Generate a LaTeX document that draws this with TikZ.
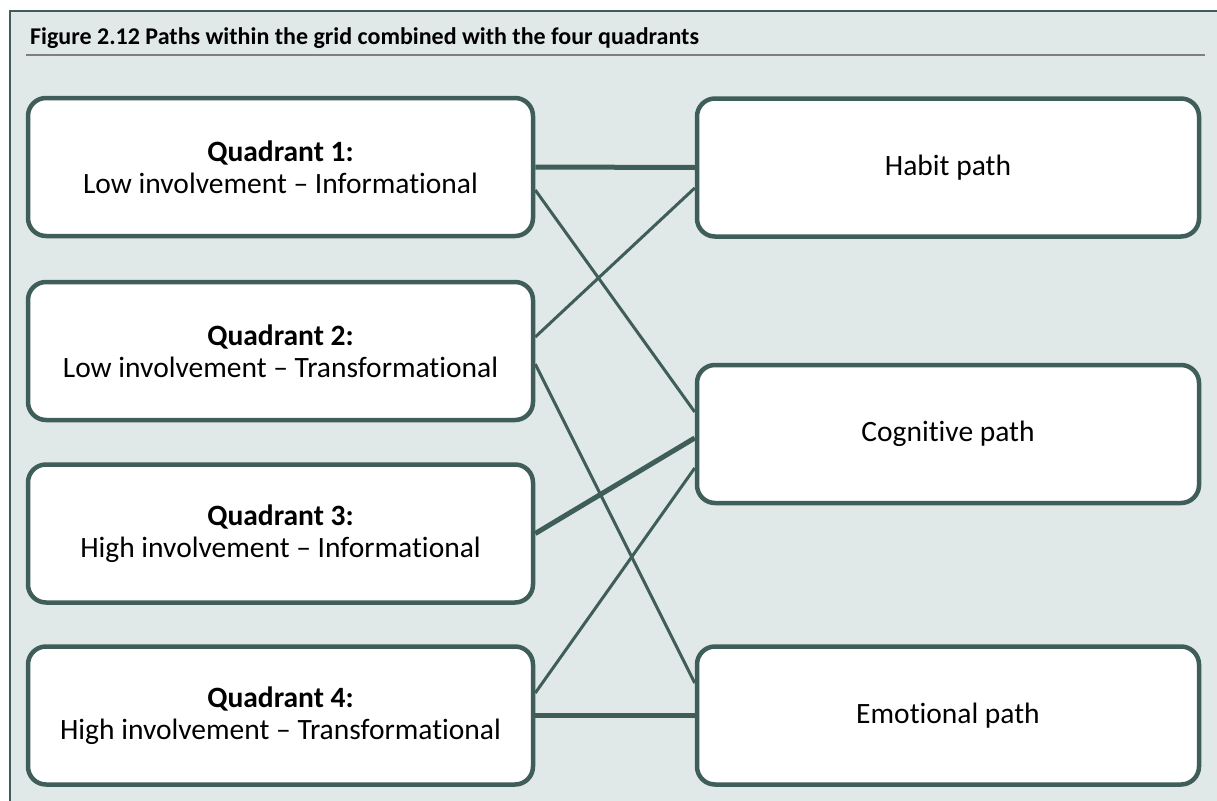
\documentclass[tikz,border=0pt]{standalone}
\usepackage{fontspec}
\setmainfont{Carlito}[Ligatures={TeX,NoCommon}]
\definecolor{framebg}{HTML}{E1E8E8}
\definecolor{edge}{HTML}{3F5E59}
\definecolor{rulegray}{HTML}{7F7F7F}
\begin{document}
\begin{tikzpicture}[x=1pt,y=-1pt,
  panel/.style={draw=edge, line width=4.5pt, fill=white, rounded corners=18pt,
    minimum height=138pt, align=center, inner sep=0pt,
    font=\fontsize{29.5}{32}\selectfont},
  leftbox/.style={panel, minimum width=505pt},
  rightbox/.style={panel, minimum width=502pt},
  link/.style={draw=edge, line width=3pt},
  boldlink/.style={draw=edge, line width=5pt}]
  \useasboundingbox (0,0) rectangle (1217,800);
  \clip (0,0) rectangle (1217,800);

  % outer frame and caption
  \draw[draw=edge, line width=2pt, fill=framebg] (10,11) rectangle (1240,830);
  \node[anchor=base west, inner sep=0pt, font=\fontsize{24}{28}\selectfont\bfseries]
    (title) at (30,45) {Figure 2.12 Paths within the grid combined with the four quadrants};
  \coordinate (ruleL) at (26,55);
  \coordinate (ruleR) at (1205,55);
  \draw[rulegray, line width=2pt] (ruleL) -- (ruleR);

  % quadrant boxes
  \node[leftbox] (q1) at (280.5,167) {\textbf{Quadrant 1:}\\Low involvement -- Informational};
  \node[leftbox] (q2) at (280.5,351) {\textbf{Quadrant 2:}\\Low involvement -- Transformational};
  \node[leftbox] (q3) at (280.5,533.5) {\textbf{Quadrant 3:}\\High involvement -- Informational};
  \node[leftbox] (q4) at (280.5,715.5) {\textbf{Quadrant 4:}\\High involvement -- Transformational};

  % path boxes
  \node[rightbox] (habit) at (948,167.5) {Habit path};
  \node[rightbox] (cog) at (948,434) {Cognitive path};
  \node[rightbox] (emo) at (948,715.5) {Emotional path};

  % connectors
  \draw[boldlink] (q1.east) -- (habit.west);
  \draw[link] ([yshift=-23pt]q1.east) -- ([yshift=22pt]cog.west);
  \draw[link] ([yshift=14pt]q2.east) -- ([yshift=-20.5pt]habit.west);
  \draw[link] ([yshift=-13pt]q2.east) -- ([yshift=32.5pt]emo.west);
  \draw[boldlink] (q3.east) -- ([yshift=-4pt]cog.west);
  \draw[link] ([yshift=22.5pt]q4.east) -- ([yshift=-34pt]cog.west);
  \draw[boldlink] (q4.east) -- (emo.west);
\end{tikzpicture}
\end{document}
